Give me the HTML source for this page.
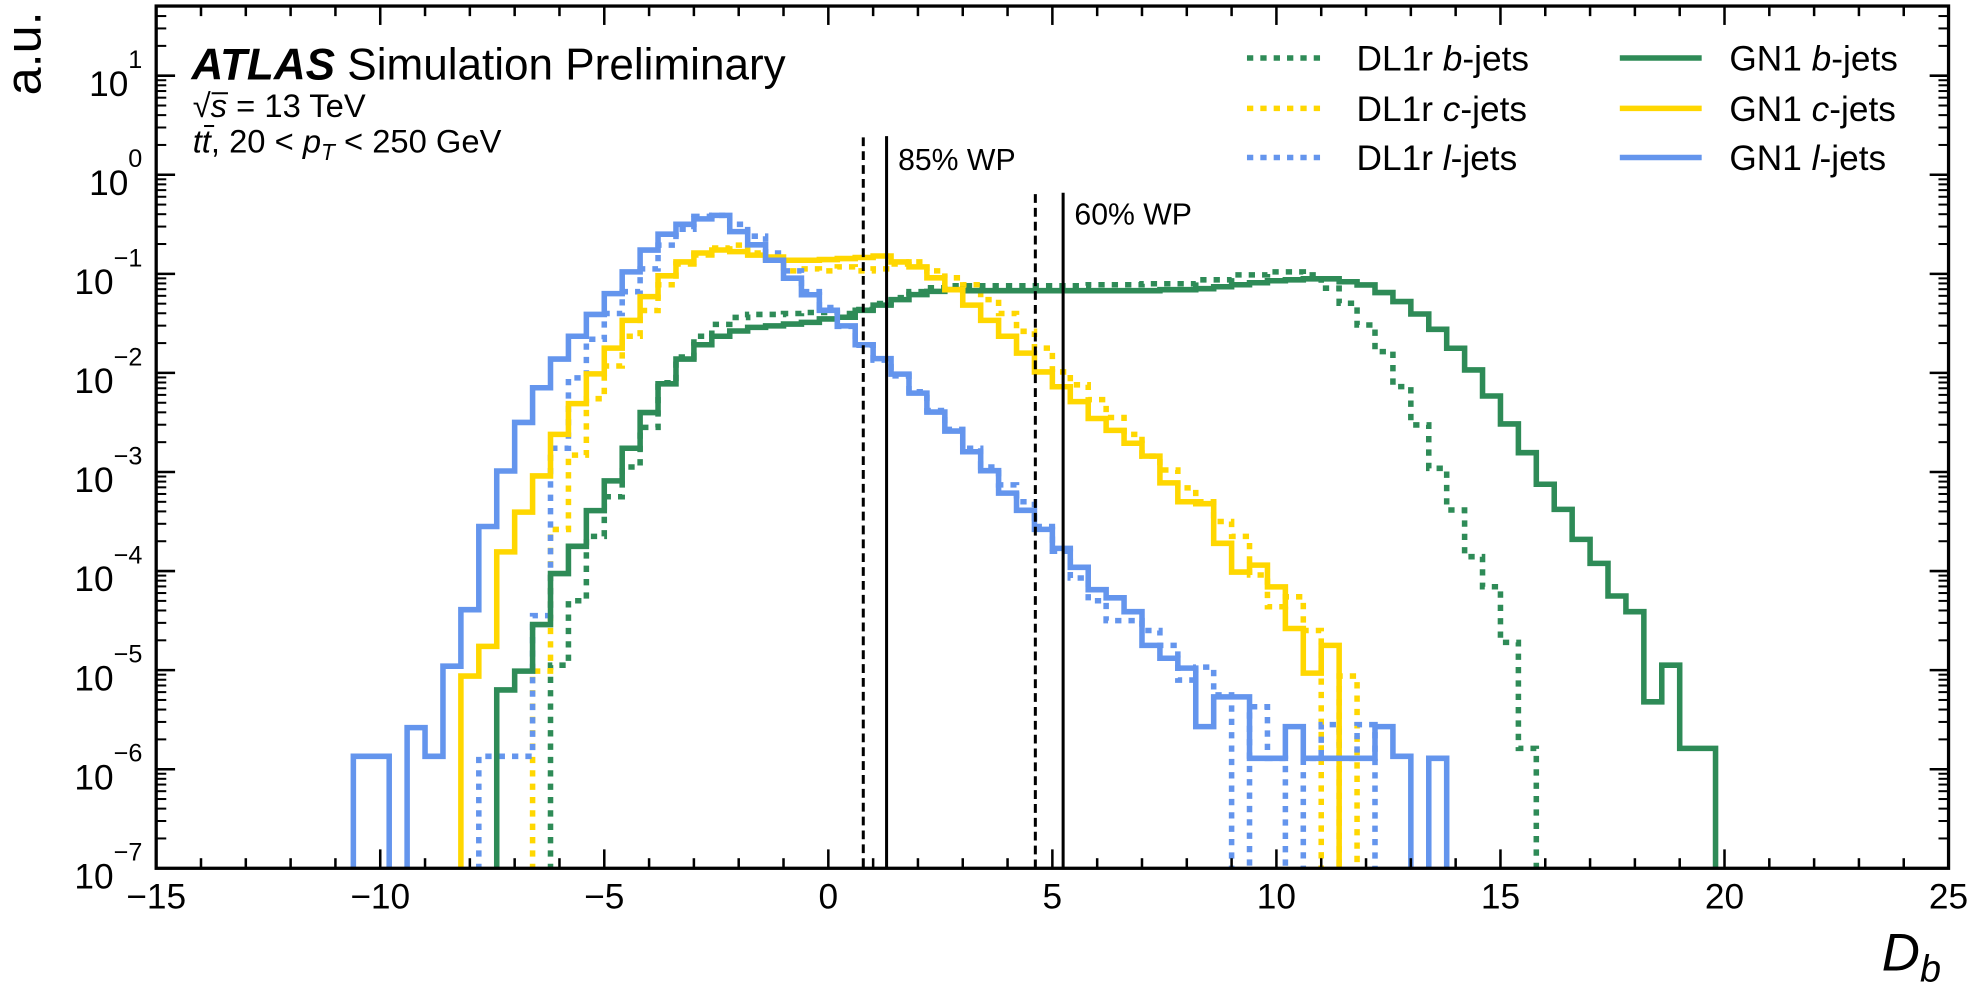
<!DOCTYPE html>
<html>
<head>
<meta charset="utf-8">
<style>
  html,body{margin:0;padding:0;background:#fff;}
  svg{display:block;}
  text{font-family:"Liberation Sans","DejaVu Sans",sans-serif;fill:#000;}
</style>
</head>
<body>
<svg id="chart" width="1975" height="988" viewBox="0 0 1568 784" preserveAspectRatio="none" xmlns="http://www.w3.org/2000/svg">
  <defs>
    <clipPath id="plotClip"><rect x="124" y="4.8" width="1423" height="684.2"/></clipPath>
  </defs>
  <rect x="0" y="0" width="1568" height="784" fill="#fff"/>
  <g id="series" clip-path="url(#plotClip)"></g>
  <g id="wp"></g>
  <g id="axes"></g>

  <text x="32" y="9" font-size="40" text-anchor="end" transform="rotate(-90 32 9)">a.u.</text>
  <text x="1494" y="770" font-size="42" font-style="italic">D<tspan font-size="30" dy="9">b</tspan></text>

  <text x="152" y="63" font-size="35"><tspan font-weight="bold" font-style="italic">ATLAS</tspan> Simulation Preliminary</text>
  <text x="153" y="93" font-size="26">√<tspan font-style="italic">s</tspan> = 13 TeV</text>
  <line x1="168" x2="181" y1="74" y2="74" stroke="#000" stroke-width="1.6"/>
  <text x="153" y="121" font-size="26"><tspan font-style="italic">tt</tspan>, 20 &lt; <tspan font-style="italic">p</tspan><tspan font-style="italic" font-size="18" dy="6">T</tspan><tspan dy="-6"> &lt; 250 GeV</tspan></text>
  <line x1="162" x2="170" y1="100" y2="100" stroke="#000" stroke-width="1.6"/>

  <g id="legend"></g>
</svg>
<script>
// ---------- data ----------
const binWidth = 0.4;
const seriesNames = ["DL1r b-jets","DL1r c-jets","DL1r l-jets","GN1 b-jets","GN1 c-jets","GN1 l-jets"];
// first bin left edge (D_b) of each series
const dl1rBStart = -6.2;
const dl1rCStart = -6.6;
const dl1rLStart = -7.8;
const gn1BStart = -7.4;
const gn1CStart = -8.2;
const gn1LStart = -10.6;
// log10 of normalised bin content (null = empty bin)
const dl1rBLog10 = [-4.95,-4.30,-3.65,-3.25,-2.95,-2.55,-2.10,-1.84,-1.63,-1.51,-1.44,-1.41,-1.41,-1.40,-1.39,-1.39,-1.40,-1.36,-1.30,-1.24,-1.18,-1.14,-1.12,
  -1.12,-1.12,-1.12,-1.12,-1.12,-1.12,-1.12,-1.11,-1.11,-1.11,-1.10,-1.10,-1.10,-1.06,-1.06,-1.01,-1.01,-0.98,-0.98,-1.01,-1.145,-1.297,-1.516,-1.785,-2.138,-2.525,-2.963,-3.384,-3.855,-4.158,-4.72,-5.79];
const dl1rCLog10 = [-5.01,-3.58,-2.83,-2.26,-1.93,-1.63,-1.37,-1.11,-0.90,-0.81,-0.74,-0.71,-0.79,-0.86,-0.97,-0.95,-0.97,-0.93,-0.97,-0.95,-0.90,-0.88,-0.97,-1.04,-1.11,-1.26,-1.40,-1.58,-1.75,-1.99,-2.12,-2.27,-2.45,-2.62,-2.84,-2.98,-3.16,-3.30,-3.50,-3.65,-4.04,-4.36,-4.26,-4.60,null,-5.06];
const dl1rLLog10 = [-5.87,-5.87,-5.87,-4.45,-2.76,-2.05,-1.66,-1.40,-1.18,-0.95,-0.71,-0.55,-0.42,-0.41,-0.50,-0.62,-0.79,-0.97,-1.18,-1.34,-1.53,-1.72,-1.87,-2.03,-2.19,-2.38,-2.57,-2.76,-2.95,-3.13,-3.30,-3.55,-3.80,-4.07,-4.30,-4.50,-4.50,-4.60,-4.75,-5.10,-4.97,-5.25,null,-5.37,-5.89,null,-5.89,-5.55,-5.89,-5.55];
const gn1BLog10 = [-5.20,-5.01,-4.54,-4.025,-3.75,-3.39,-3.09,-2.76,-2.40,-2.11,-1.86,-1.716,-1.63,-1.577,-1.54,-1.525,-1.507,-1.49,-1.455,-1.438,-1.368,-1.316,-1.26,-1.21,-1.177,-1.16,
  -1.17,-1.17,-1.17,-1.17,-1.17,-1.17,-1.17,-1.17,-1.17,-1.17,-1.17,
  -1.16,-1.16,-1.15,-1.13,-1.11,-1.09,-1.07,-1.06,-1.05,-1.05,-1.08,-1.112,-1.189,-1.28,-1.405,-1.56,-1.751,-1.97,-2.233,-2.515,-2.805,-3.124,-3.377,-3.68,-3.922,-4.252,-4.41,-5.32,-4.95,-5.79,-5.79];
const gn1CLog10 = [-5.06,-4.76,-3.806,-3.405,-3.04,-2.62,-2.31,-2.01,-1.75,-1.47,-1.23,-1.02,-0.88,-0.79,-0.759,-0.776,-0.811,-0.83,-0.863,-0.863,-0.856,-0.846,-0.835,-0.82,-0.88,-0.93,-1.04,-1.16,-1.316,-1.47,-1.63,-1.80,-1.99,-2.14,-2.29,-2.46,-2.58,-2.71,-2.84,-3.11,-3.30,-3.32,-3.72,-4.01,-3.94,-4.16,-4.58,-5.03,-4.75];
const gn1LLog10 = [-5.87,-5.87,null,-5.58,-5.87,-4.96,-4.39,-3.55,-2.99,-2.50,-2.15,-1.86,-1.63,-1.41,-1.20,-0.98,-0.76,-0.60,-0.50,-0.445,-0.41,-0.574,-0.707,-0.863,-1.044,-1.211,-1.368,-1.525,-1.716,-1.856,-2.012,-2.204,-2.395,-2.587,-2.796,-2.987,-3.213,-3.387,-3.579,-3.771,-3.962,-4.188,-4.27,-4.41,-4.75,-4.88,-4.98,-5.57,-5.27,-5.27,-5.89,-5.89,-5.57,-5.89,-5.89,-5.89,-5.89,-5.57,-5.87,null,-5.89];
// working point cut values
const wpLabels = ["85% WP","60% WP"];
const wpDl1rCuts = [0.78, 4.62];
const wpGn1Cuts = [1.30, 5.24];
// axes
const xTicksMajor = [-15,-10,-5,0,5,10,15,20,25];
const xTickLabels = ["\u221215","\u221210","\u22125","0","5","10","15","20","25"];
const yDecades = [-7,-6,-5,-4,-3,-2,-1,0,1];
const yTickLabels = ["\u22127","\u22126","\u22125","\u22124","\u22123","\u22122","\u22121","0","1"];

// ---------- scales ----------
const PL = 124, PR = 1547, PT = 4.8, PB = 689;
const XMIN = -15, XMAX = 25, LMIN = -7, LMAX = 1.703;
function X(u){ return PL + (u - XMIN) * (PR - PL) / (XMAX - XMIN); }
function Y(l){ return PB - (l - LMIN) * (PB - PT) / (LMAX - LMIN); }

const NS = "http://www.w3.org/2000/svg";
function mk(tag, attrs){ const e = document.createElementNS(NS, tag); for (const k in attrs) e.setAttribute(k, attrs[k]); return e; }

const GREEN = "#2e8b57", GOLD = "#ffd700", BLUE = "#6495ed";
const SW = 4.4, DOT = "5 5.6";

// ---------- series ----------
const seriesG = document.getElementById("series");
function stepPath(start, vals){
  const floor = PB + 12;
  let d = "M" + X(start).toFixed(2) + "," + floor;
  for (let i = 0; i < vals.length; i++){
    const x0 = X(start + i * binWidth), x1 = X(start + (i + 1) * binWidth);
    const y = vals[i] === null ? floor : Y(vals[i]);
    d += " L" + x0.toFixed(2) + "," + y.toFixed(2) + " L" + x1.toFixed(2) + "," + y.toFixed(2);
  }
  d += " L" + X(start + vals.length * binWidth).toFixed(2) + "," + floor;
  return d;
}
const seriesDefs = [
  {name:"dl1r-b-jets-histogram", start:dl1rBStart, vals:dl1rBLog10, color:GREEN, dash:DOT},
  {name:"dl1r-c-jets-histogram", start:dl1rCStart, vals:dl1rCLog10, color:GOLD, dash:DOT},
  {name:"dl1r-l-jets-histogram", start:dl1rLStart, vals:dl1rLLog10, color:BLUE, dash:DOT},
  {name:"gn1-b-jets-histogram", start:gn1BStart, vals:gn1BLog10, color:GREEN, dash:null},
  {name:"gn1-c-jets-histogram", start:gn1CStart, vals:gn1CLog10, color:GOLD, dash:null},
  {name:"gn1-l-jets-histogram", start:gn1LStart, vals:gn1LLog10, color:BLUE, dash:null}
];
seriesDefs.forEach(s => {
  const p = mk("path", {d: stepPath(s.start, s.vals), fill:"none", stroke:s.color, "stroke-width":SW, "stroke-linejoin":"miter"});
  if (s.dash) p.setAttribute("stroke-dasharray", s.dash);
  
  
  seriesG.appendChild(p);
});

// ---------- working points ----------
const wpG = document.getElementById("wp");
const wpTops = [108, 153];
const wpText = [[713,135],[853,178]];
for (let i = 0; i < wpLabels.length; i++){
  const dl = mk("line", {x1:X(wpDl1rCuts[i]), x2:X(wpDl1rCuts[i]), y1:wpTops[i]+1, y2:PB, stroke:"#000", "stroke-width":2.4, "stroke-dasharray":"7 4"});
  
  
  wpG.appendChild(dl);
  const gl = mk("line", {x1:X(wpGn1Cuts[i]), x2:X(wpGn1Cuts[i]), y1:wpTops[i], y2:PB, stroke:"#000", "stroke-width":2.4});
  
  
  wpG.appendChild(gl);
  const t = mk("text", {x:wpText[i][0], y:wpText[i][1], "font-size":24});
  t.textContent = wpLabels[i];
  
  
  wpG.appendChild(t);
}

// ---------- axes ----------
const axG = document.getElementById("axes");
const frame = mk("rect", {x:PL, y:PT, width:PR-PL, height:PB-PT, fill:"none", stroke:"#000", "stroke-width":2.6});


axG.appendChild(frame);
const MAJ = 15, MIN = 8;
for (let u = XMIN; u <= XMAX; u++){
  const isMaj = xTicksMajor.indexOf(u) >= 0, len = isMaj ? MAJ : MIN, x = X(u);
  const tb = mk("line", {x1:x, x2:x, y1:PB, y2:PB-len, stroke:"#000", "stroke-width":2});
  
  
  axG.appendChild(tb);
  const tt = mk("line", {x1:x, x2:x, y1:PT, y2:PT+len, stroke:"#000", "stroke-width":2});
  
  
  axG.appendChild(tt);
}
xTicksMajor.forEach((u, i) => {
  const t = mk("text", {x:X(u), y:721, "font-size":28, "text-anchor":"middle"});
  t.textContent = xTickLabels[i];
  
  
  axG.appendChild(t);
});
yDecades.forEach((d, i) => {
  const y = Y(d);
  const l1 = mk("line", {x1:PL, x2:PL+MAJ, y1:y, y2:y, stroke:"#000", "stroke-width":2});
  
  
  axG.appendChild(l1);
  const l2 = mk("line", {x1:PR, x2:PR-MAJ, y1:y, y2:y, stroke:"#000", "stroke-width":2});
  
  
  axG.appendChild(l2);
  for (let m = 2; m <= 9; m++){
    const lm = d + Math.log10(m);
    if (lm > LMAX) break;
    const ym = Y(lm);
    const a = mk("line", {x1:PL, x2:PL+MIN, y1:ym, y2:ym, stroke:"#000", "stroke-width":1.6});
    
    
    axG.appendChild(a);
    const b = mk("line", {x1:PR, x2:PR-MIN, y1:ym, y2:ym, stroke:"#000", "stroke-width":1.6});
    
    
    axG.appendChild(b);
  }
  const t = mk("text", {x:113, y:y+16, "font-size":28, "text-anchor":"end"});
  const base = mk("tspan", {});
  base.textContent = "10";
  t.appendChild(base);
  const ex = mk("tspan", {dy:-22, "font-size":20});
  ex.textContent = yTickLabels[i];
  t.appendChild(ex);
  
  
  axG.appendChild(t);
});

// ---------- legend ----------
const legG = document.getElementById("legend");
const legRows = [46, 86, 125];
const legItems = [
  {col:0,row:0,color:GREEN,dash:DOT,pre:"DL1r ",it:"b",post:"-jets",name:"legend-dl1r-b-jets"},
  {col:0,row:1,color:GOLD,dash:DOT,pre:"DL1r ",it:"c",post:"-jets",name:"legend-dl1r-c-jets"},
  {col:0,row:2,color:BLUE,dash:DOT,pre:"DL1r ",it:"l",post:"-jets",name:"legend-dl1r-l-jets"},
  {col:1,row:0,color:GREEN,dash:null,pre:"GN1 ",it:"b",post:"-jets",name:"legend-gn1-b-jets"},
  {col:1,row:1,color:GOLD,dash:null,pre:"GN1 ",it:"c",post:"-jets",name:"legend-gn1-c-jets"},
  {col:1,row:2,color:BLUE,dash:null,pre:"GN1 ",it:"l",post:"-jets",name:"legend-gn1-l-jets"}
];
const colHandle = [[990,1049],[1286,1351]];
const colText = [1077, 1373];
legItems.forEach(it => {
  const g = mk("g", {});
  
  
  const y = legRows[it.row];
  const h = mk("line", {x1:colHandle[it.col][0], x2:colHandle[it.col][1], y1:y, y2:y, stroke:it.color, "stroke-width":SW});
  if (it.dash) h.setAttribute("stroke-dasharray", it.dash);
  
  
  g.appendChild(h);
  const t = mk("text", {x:colText[it.col], y:y+10, "font-size":28});
  const a = mk("tspan", {}); a.textContent = it.pre; t.appendChild(a);
  const b = mk("tspan", {"font-style":"italic"}); b.textContent = it.it; t.appendChild(b);
  const c = mk("tspan", {}); c.textContent = it.post; t.appendChild(c);
  
  
  g.appendChild(t);
  legG.appendChild(g);
});
</script>
</body>
</html>
